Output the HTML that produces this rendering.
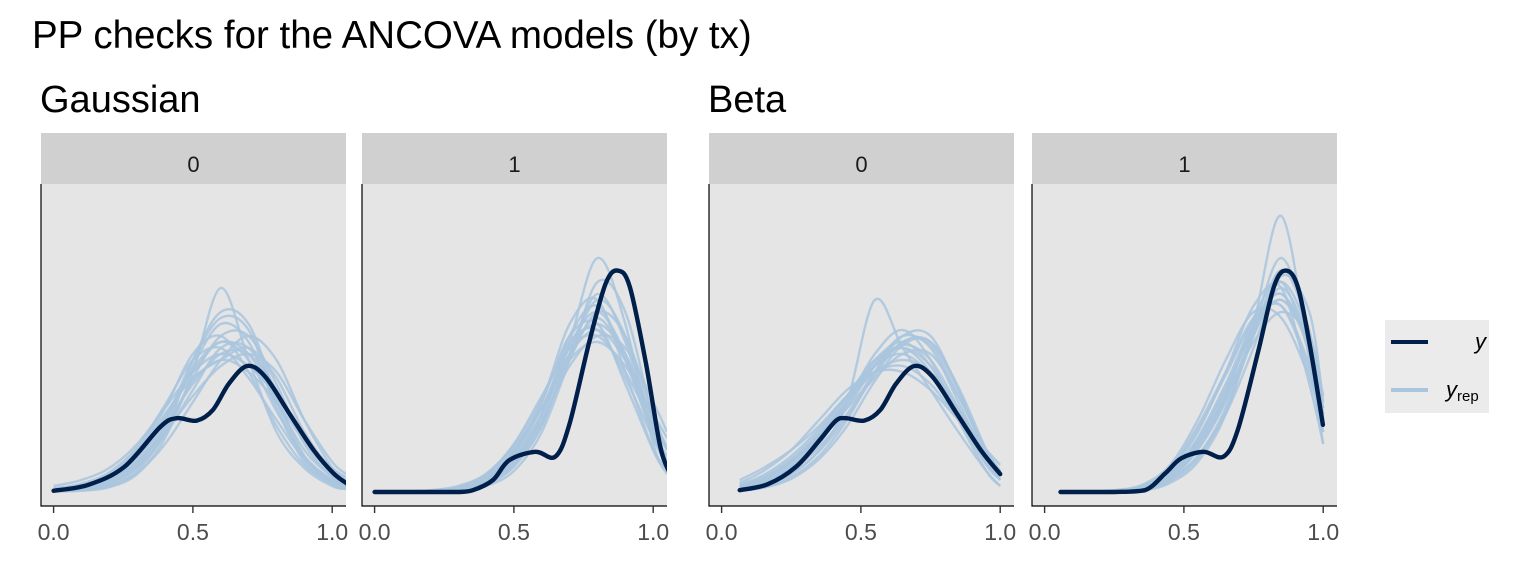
<!DOCTYPE html>
<html><head><meta charset="utf-8"><style>
html,body{margin:0;padding:0;background:#fff;}
svg{display:block;font-family:"Liberation Sans",sans-serif;}
</style></head><body>
<svg id="c" width="1536" height="576" viewBox="0 0 1536 576">
<text x="32" y="48" font-size="38.5" fill="#000">PP checks for the ANCOVA models (by tx)</text>
<text x="40" y="112" font-size="38" fill="#000">Gaussian</text>
<text x="708" y="112" font-size="38" fill="#000">Beta</text>
<g id="panels"></g>
<g>
<rect x="1385" y="320" width="104" height="93" fill="#ebebeb"/>
<line x1="1391" y1="342" x2="1428" y2="342" stroke="#011f4b" stroke-width="4"/>
<line x1="1391" y1="390" x2="1428" y2="390" stroke="#a9c6de" stroke-width="4"/>
<text x="1475" y="349" font-size="22" font-style="italic" fill="#000">y</text>
<text x="1446" y="397" font-size="22" font-style="italic" fill="#000">y<tspan font-size="15" font-style="normal" dy="4">rep</tspan></text>
</g>
</svg>
<script>
// shared grids
const gridG = [0,0.1,0.2,0.3,0.4,0.5,0.6,0.7,0.8,0.9,1.0,1.05];
const gridB = [0.065,0.15,0.25,0.35,0.45,0.55,0.65,0.75,0.85,0.95,1.0];
const tickValues = [0,0.5,1];
const tickLabels = ["0.0","0.5","1.0"];
const stripLabels = ["0","1","0","1"];

// Gaussian tx=0
const g0yX = [0,0.125,0.254,0.384,0.442,0.514,0.572,0.63,0.695,0.76,0.846,0.933,1.005,1.06];
const g0yD = [0.02,0.12,0.42,1.09,1.23,1.19,1.37,1.81,2.1,1.92,1.31,0.70,0.31,0.12];
const g0rep = [
[.05,.1,.25,.6,1.2,2.0,2.5,2.3,1.5,.7,.25,.12],
[.02,.05,.15,.45,1.1,2.1,2.8,2.5,1.4,.5,.12,.05],
[.1,.2,.4,.8,1.4,2.0,2.3,2.1,1.6,.9,.4,.25],
[.02,.04,.12,.4,1.0,1.9,2.6,2.6,1.8,.8,.25,.1],
[.01,.02,.08,.3,.9,2.0,3.4,2.2,1.0,.4,.1,.05],
[.05,.12,.3,.7,1.4,2.3,2.6,2.0,1.1,.45,.15,.08],
[.03,.08,.2,.5,1.0,1.6,2.1,2.3,2.0,1.2,.5,.3],
[.02,.06,.2,.55,1.2,2.2,2.9,2.7,1.5,.55,.15,.06],
[.04,.1,.25,.65,1.3,1.9,2.2,2.4,1.9,1.0,.35,.15],
[.01,.03,.1,.35,1.0,2.2,3.0,2.8,1.6,.6,.15,.05],
[.03,.07,.2,.5,1.1,1.8,2.3,2.3,1.7,.9,.35,.15],
[.06,.14,.33,.75,1.45,2.2,2.4,1.9,1.2,.55,.2,.1],
[.01,.03,.1,.32,.8,1.5,2.2,2.6,2.2,1.2,.4,.15],
[.02,.05,.15,.42,.95,1.7,2.4,2.4,1.7,.85,.3,.12],
[.04,.09,.24,.6,1.25,2.05,2.5,2.2,1.35,.6,.2,.09],
[.02,.05,.17,.48,1.05,1.85,2.2,2.0,1.5,.85,.4,.2]];

// Gaussian tx=1
const g1yX = [0,0.1,0.2,0.3,0.353,0.425,0.483,0.577,0.649,0.70,0.772,0.83,0.873,0.916,0.974,1.025,1.06];
const g1yD = [0,0,0,0,0.03,0.2,0.53,0.67,0.59,1.14,2.53,3.48,3.69,3.42,2.14,0.76,0.31];
const g1rep = [
[0,0,.01,.05,.2,.6,1.3,2.3,2.9,2.2,1.0,.6],
[0,0,0,.02,.12,.45,1.1,2.3,3.3,2.5,1.0,.5],
[0,0,.02,.08,.3,.8,1.6,2.4,2.6,2.0,1.1,.7],
[0,0,0,.03,.15,.5,1.2,2.5,3.9,2.8,.8,.35],
[0,0,.01,.06,.25,.7,1.5,2.6,2.8,1.8,.7,.4],
[0,0,0,.04,.2,.55,1.2,2.1,2.6,2.4,1.5,1.0],
[0,0,.01,.05,.22,.65,1.5,2.8,3.2,2.0,.7,.3],
[0,0,0,.02,.1,.35,1.0,2.2,3.5,3.0,1.2,.5],
[0,.01,.03,.1,.3,.75,1.4,2.2,2.5,2.1,1.3,.9],
[0,0,.01,.04,.18,.5,1.3,2.6,3.1,2.2,.9,.45],
[0,0,.01,.05,.2,.62,1.4,2.4,2.8,2.3,1.2,.7],
[0,0,0,.03,.14,.48,1.15,2.2,3.0,2.6,1.3,.7],
[0,.01,.02,.07,.28,.78,1.55,2.5,2.7,1.9,.9,.5],
[0,0,.01,.04,.17,.55,1.3,2.45,3.0,2.3,1.0,.5],
[0,0,.01,.06,.24,.68,1.4,2.3,2.7,2.2,1.2,.75],
[0,0,0,.03,.13,.42,1.1,2.3,3.2,2.6,1.1,.5]];

// Beta tx=0
const b0yX = [0.065,0.166,0.267,0.353,0.411,0.447,0.512,0.57,0.627,0.692,0.757,0.844,0.93,1.0];
const b0yD = [0.03,0.13,0.42,0.87,1.19,1.23,1.19,1.37,1.81,2.1,1.92,1.31,0.70,0.3];
const b0rep = [
[.1,.25,.55,1.0,1.6,2.2,2.4,2.0,1.2,.45,.2],
[.03,.1,.35,.8,1.5,2.3,2.7,2.2,1.2,.35,.1],
[.2,.4,.7,1.1,1.6,2.0,2.1,1.8,1.2,.6,.35],
[.05,.15,.4,.85,1.4,2.1,2.6,2.4,1.5,.55,.2],
[.03,.1,.3,.7,1.5,3.2,2.4,1.7,1.0,.35,.1],
[.15,.35,.7,1.2,1.7,2.0,2.0,1.7,1.2,.7,.45],
[.05,.12,.35,.75,1.3,2.0,2.5,2.5,1.7,.6,.25],
[.08,.2,.5,.95,1.55,2.2,2.5,2.1,1.3,.5,.2],
[.03,.08,.25,.6,1.2,2.0,2.6,2.6,1.7,.6,.2],
[.1,.22,.5,.9,1.4,1.9,2.3,2.3,1.6,.7,.35],
[.06,.16,.42,.85,1.45,2.1,2.45,2.2,1.4,.55,.25],
[.12,.28,.6,1.05,1.6,2.1,2.3,1.95,1.25,.55,.28],
[.04,.1,.3,.68,1.25,1.95,2.5,2.45,1.6,.65,.28],
[.07,.18,.45,.9,1.5,2.15,2.4,2.1,1.35,.6,.3],
[.02,.07,.22,.55,1.1,1.85,2.45,2.5,1.75,.7,.3],
[.09,.22,.52,.95,1.5,2.0,2.2,2.0,1.4,.65,.35]];

// Beta tx=1
const b1yX = [0.057,0.15,0.25,0.36,0.433,0.49,0.57,0.642,0.693,0.765,0.823,0.866,0.909,0.953,0.999];
const b1yD = [0,0,0,0.03,0.31,0.56,0.67,0.59,1.03,2.31,3.42,3.69,3.42,2.42,1.12];
const b1rep = [
[0,0,.01,.06,.3,.9,1.8,2.8,3.3,2.4,1.2],
[0,0,.02,.1,.4,1.1,2.0,2.9,3.1,2.0,1.0],
[0,0,0,.03,.2,.6,1.4,2.7,3.9,2.6,1.1],
[0,0,.01,.05,.3,.8,1.6,2.5,3.0,2.6,1.6],
[0,0,0,.02,.15,.5,1.3,2.8,4.6,2.2,.8],
[0,.01,.03,.12,.45,1.2,2.2,3.0,2.9,1.9,1.1],
[0,0,.01,.05,.25,.75,1.6,2.9,3.5,2.3,1.2],
[0,0,0,.04,.2,.6,1.3,2.4,3.6,3.0,1.5],
[0,0,.01,.08,.35,1.0,2.0,3.1,3.4,1.8,.8],
[0,0,.02,.07,.28,.85,1.7,2.7,3.2,2.5,1.4],
[0,0,.01,.05,.27,.8,1.65,2.75,3.3,2.35,1.2],
[0,0,.01,.04,.22,.7,1.5,2.6,3.4,2.5,1.3],
[0,.01,.02,.09,.38,1.05,1.95,2.85,3.1,2.1,1.0],
[0,0,0,.03,.18,.55,1.35,2.6,3.7,2.7,1.3],
[0,0,.01,.06,.3,.88,1.75,2.7,3.2,2.4,1.4],
[0,0,.01,.05,.24,.72,1.55,2.65,3.5,2.6,1.2]];

const NS = "http://www.w3.org/2000/svg";
const root = document.getElementById("panels");
const panelLefts = [41,362,709,1032];
const panelW = 305, plotTop = 184, plotBot = 506, stripTop = 133;
const baseY = 492, dScale = 60;

function mk(tag, attrs, parent){ const e=document.createElementNS(NS,tag); for(const k in attrs) e.setAttribute(k,attrs[k]); parent.appendChild(e); return e; }
function xScale(left){ return v => left + 12.6 + v*278.6; }
function yScale(d){ return baseY - d*dScale; }
function smoothPath(pts){
  let s = "M"+pts[0][0].toFixed(1)+","+pts[0][1].toFixed(1);
  for(let i=0;i<pts.length-1;i++){
    const p0=pts[Math.max(0,i-1)], p1=pts[i], p2=pts[i+1], p3=pts[Math.min(pts.length-1,i+2)];
    const c1x=p1[0]+(p2[0]-p0[0])/6, c1y=p1[1]+(p2[1]-p0[1])/6;
    const c2x=p2[0]-(p3[0]-p1[0])/6, c2y=p2[1]-(p3[1]-p1[1])/6;
    s+=" C"+c1x.toFixed(1)+","+Math.min(c1y,baseY).toFixed(1)+" "+c2x.toFixed(1)+","+Math.min(c2y,baseY).toFixed(1)+" "+p2[0].toFixed(1)+","+p2[1].toFixed(1);
  }
  return s;
}

const panels = [
  {yx:g0yX, yd:g0yD, rep:g0rep, grid:gridG},
  {yx:g1yX, yd:g1yD, rep:g1rep, grid:gridG},
  {yx:b0yX, yd:b0yD, rep:b0rep, grid:gridB},
  {yx:b1yX, yd:b1yD, rep:b1rep, grid:gridB}
];

panels.forEach((p, i) => {
  const left = panelLefts[i];
  const xs = xScale(left);
  const g = mk("g", {}, root);
  
  
  const bg = mk("rect", {x:left, y:plotTop, width:panelW, height:plotBot-plotTop, fill:"#e5e5e5"}, g);
  
  
  const strip = mk("rect", {x:left, y:stripTop, width:panelW, height:plotTop-stripTop, fill:"#d0d0d0"}, g);
  
  
  const st = mk("text", {x:left+panelW/2, y:172, "font-size":22, "text-anchor":"middle", fill:"#1a1a1a"}, g);
  st.textContent = stripLabels[i];
  
  
  const cid = "clip"+i;
  const cp = mk("clipPath", {id:cid}, g);
  mk("rect", {x:left, y:plotTop, width:panelW, height:plotBot-plotTop}, cp);
  const cg = mk("g", {"clip-path":"url(#"+cid+")"}, g);
  p.rep.forEach(r => {
    const pts = p.grid.map((v,k)=>[xs(v), yScale(r[k])]);
    const path = mk("path", {d:smoothPath(pts), fill:"none", stroke:"#a9c6de", "stroke-width":2.4, "stroke-opacity":0.85}, cg);
    
    
  });
  const ypts = p.yx.map((v,k)=>[xs(v), yScale(p.yd[k])]);
  const yl = mk("path", {d:smoothPath(ypts), fill:"none", stroke:"#011f4b", "stroke-width":4.4, "stroke-linecap":"round"}, cg);
  
  
  const ax = mk("path", {d:"M"+left+","+plotTop+" V"+plotBot+" H"+(left+panelW), fill:"none", stroke:"#000", "stroke-width":1.2}, g);
  
  
  tickValues.forEach((v,k) => {
    const x = xs(v);
    const t = mk("line", {x1:x, y1:plotBot, x2:x, y2:plotBot+7, stroke:"#333", "stroke-width":1.4}, g);
    
    
    const tl = mk("text", {x:x, y:540, "font-size":23, "text-anchor":"middle", fill:"#4d4d4d"}, g);
    tl.textContent = tickLabels[k];
    
    
  });
});
</script>
</body></html>
